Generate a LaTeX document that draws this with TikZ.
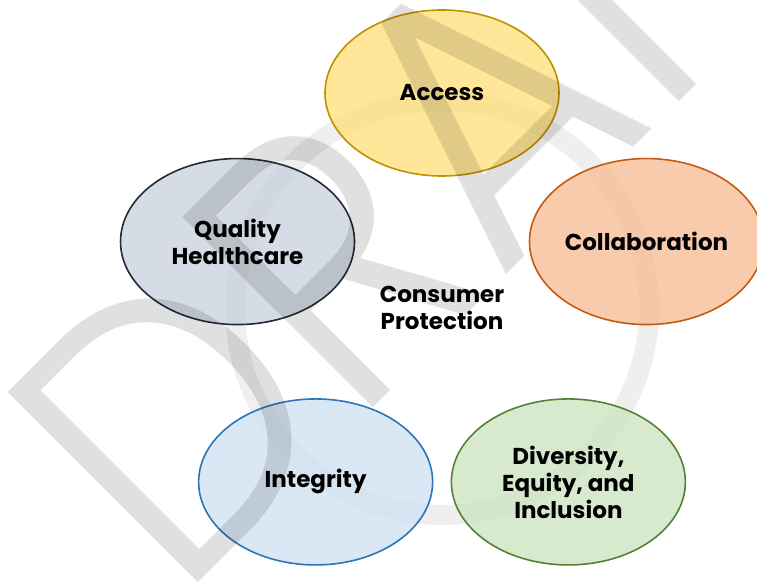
\documentclass[tikz,border=0pt]{standalone}
\usepackage{fontspec}
\setmainfont{Poppins}
\newfontfamily\wmfont{Poppins}[UprightFont={* Light}, FakeStretch=0.91]
\usetikzlibrary{shapes.geometric, positioning}

\definecolor{accfill}{HTML}{FFDE77}
\definecolor{accline}{HTML}{BF9000}
\definecolor{colfill}{HTML}{F6BA92}
\definecolor{colline}{HTML}{C55A11}
\definecolor{deifill}{HTML}{CBE3BE}
\definecolor{deiline}{HTML}{548235}
\definecolor{intfill}{HTML}{CEDFF1}
\definecolor{intline}{HTML}{2E75B6}
\definecolor{qhfill}{HTML}{C8D0DC}
\definecolor{qhline}{HTML}{222A35}
\definecolor{ringgray}{HTML}{EFEFEF}

\tikzset{
x=1pt, y=1pt, % one unit is one pixel of the reference
every node/.style={font=\bfseries\fontsize{23}{27}\selectfont, align=center, inner sep=0pt},
pill/.style 2 args={ellipse, draw=#2, fill=#1, line width=1.6pt, fill opacity=0.75, text opacity=1, minimum width=234, minimum height=166}, % the five value ellipses
ring/.style={draw=ringgray, line width=20pt}, % the grey circle behind them
wmark/.style={font=\wmfont\fontsize{385}{385}\selectfont, text=black, text opacity=0.12, rotate=45, anchor=base west}, % the DRAFT mark on top
}

\begin{document}
\begin{tikzpicture}
    \useasboundingbox (0,0) rectangle (757,581);
    \clip (0,0) rectangle (757,581);

    \node (cp) at (442,273) {Consumer\\Protection};
    \draw[ring] (cp.center) circle[radius=207];

    \node[pill={accfill}{accline}] (acc) at ([shift={(90:215)}]cp.center) {Access};
    \node[pill={colfill}{colline}] (col) at ([shift={(18:215)}]cp.center) {Collaboration};
    \node[pill={deifill}{deiline}] (dei) at ([shift={(-54:215)}]cp.center) {Diversity,\\Equity, and\\Inclusion};
    \node[pill={intfill}{intline}] (int) at ([shift={(-126:215)}]cp.center) {Integrity};
    \node[pill={qhfill}{qhline}] (qh) at ([shift={(162:215)}]cp.center) {Quality\\Healthcare};

    \node[wmark] (draft) at (178,-22) {DRAFT};
\end{tikzpicture}
\end{document}
